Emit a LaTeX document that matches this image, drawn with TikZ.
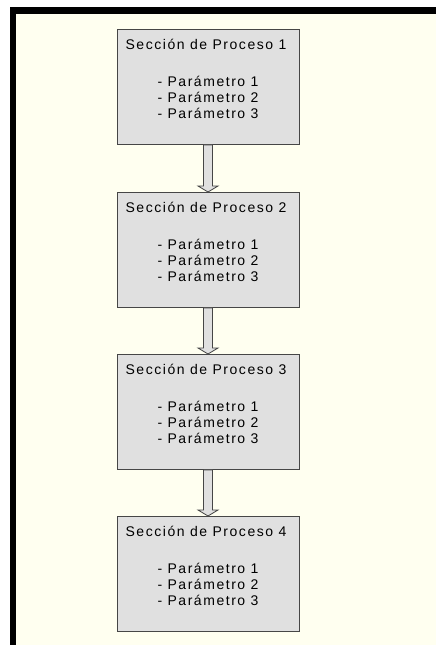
\documentclass[tikz,border=0pt]{standalone}
\usepackage{fontspec}
\setmainfont[LetterSpace=11]{Liberation Sans}
\definecolor{cream}{RGB}{255,255,240}
\definecolor{boxfill}{RGB}{224,224,224}
\definecolor{boxline}{RGB}{70,70,70}
\begin{document}
\begin{tikzpicture}[x=1pt,y=-1pt,
  procbox/.style={draw=boxline,line width=0.9pt,fill=boxfill,minimum width=182pt,minimum height=115pt,anchor=north,inner sep=0pt},
  txt/.style={font=\fontsize{14}{16}\selectfont,align=center,inner sep=0pt,text=black},
  flowarrow/.style={draw=boxline,line width=0.8pt,fill=boxfill,line join=miter}]
\useasboundingbox (0,0) rectangle (436,645);
\fill[white] (0,0) rectangle (436,645);
\fill[black] (9.5,7) rectangle (436,645);
\fill[cream] (16,13.5) rectangle (436,645);
\foreach \i/\t in {1/29,2/192,3/354,4/516}{
  \node[procbox] (b\i) at (208,\t) {};
  \node[txt] (t\i) at ([xshift=-2pt,yshift=-15pt]b\i.north) {Sección de Proceso \i};
  \node[txt] (p\i) at ([yshift=-68pt]b\i.north) {- Parámetro 1\\- Parámetro 2\\- Parámetro 3};
}
\foreach \a/\b in {1/2,2/3,3/4}{
  \draw[flowarrow] ([xshift=-4.5pt]b\a.south) -- ([xshift=-4.5pt,yshift=6pt]b\b.north)
    -- ([xshift=-10pt,yshift=6pt]b\b.north) -- (b\b.north)
    -- ([xshift=10pt,yshift=6pt]b\b.north) -- ([xshift=4.5pt,yshift=6pt]b\b.north)
    -- ([xshift=4.5pt]b\a.south) -- cycle;
}
\end{tikzpicture}
\end{document}
